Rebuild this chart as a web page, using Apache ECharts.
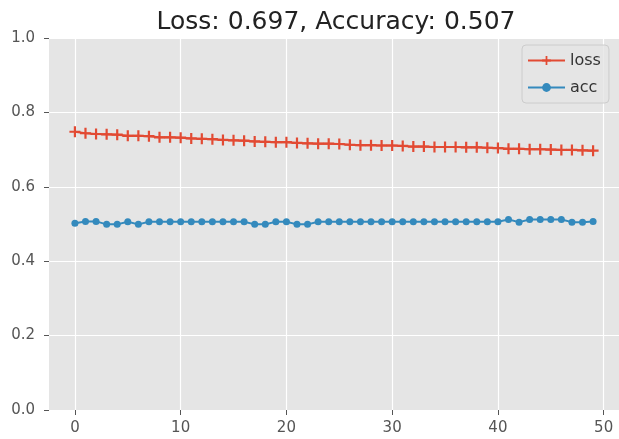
<!DOCTYPE html>
<html>
<head>
<meta charset="utf-8">
<style>
  html, body { margin: 0; padding: 0; background: #ffffff; overflow: hidden; }
  #chart { width: 619px; height: 439px; }
</style>
<script src="https://cdn.jsdelivr.net/npm/echarts@6/dist/echarts.min.js"></script>
</head>
<body>
<div id="chart"></div>
<script>
// Training history: one value per epoch
const epochs = Array.from({ length: 50 }, (_, i) => i);

const lossValues = [
  0.748, 0.744, 0.742, 0.741, 0.740, 0.737, 0.737, 0.736, 0.733, 0.733,
  0.732, 0.730, 0.729, 0.728, 0.726, 0.725, 0.724, 0.722, 0.721, 0.720,
  0.720, 0.718, 0.717, 0.716, 0.716, 0.715, 0.713, 0.712, 0.712, 0.711,
  0.711, 0.710, 0.708, 0.708, 0.707, 0.707, 0.707, 0.706, 0.706, 0.705,
  0.704, 0.702, 0.702, 0.701, 0.701, 0.700, 0.699, 0.699, 0.698, 0.697
];

const accValues = [
  0.502, 0.507, 0.507, 0.499, 0.499, 0.506, 0.499, 0.506, 0.506, 0.506,
  0.506, 0.506, 0.506, 0.506, 0.506, 0.506, 0.506, 0.499, 0.499, 0.506,
  0.506, 0.499, 0.499, 0.506, 0.506, 0.506, 0.506, 0.506, 0.506, 0.506,
  0.506, 0.506, 0.506, 0.506, 0.506, 0.506, 0.506, 0.506, 0.506, 0.506,
  0.506, 0.512, 0.505, 0.512, 0.512, 0.512, 0.512, 0.505, 0.505, 0.507
];

const xTicks = [0, 10, 20, 30, 40, 50];
const yTicks = [0.0, 0.2, 0.4, 0.6, 0.8, 1.0];

const titleText = 'Loss: 0.697, Accuracy: 0.507';

const FONT = 'DejaVu Sans';
const RED = '#E24A33';
const BLUE = '#348ABD';
const TICK_GREY = '#555555';

// "+" marker as a filled cross
const plusPath = 'path://M4,0H6V4H10V6H6V10H4V6H0V4H4Z';

const pairs = (ys) => epochs.map((e, i) => [e, ys[i]]);

const chart = echarts.init(document.getElementById('chart'), null, { renderer: 'canvas' });

chart.setOption({
  animation: false,
  backgroundColor: '#ffffff',
  grid: {
    left: 49, top: 38, width: 576, bottom: 29,
    show: true, backgroundColor: '#E5E5E5', borderWidth: 0,
    containLabel: false
  },
  graphic: [{
    type: 'text',
    x: 336, y: 22,
    style: {
      text: titleText,
      font: '25px "' + FONT + '"',
      fill: '#222222',
      align: 'center',
      verticalAlign: 'middle'
    },
    z: 10
  }],
  legend: {
    orient: 'vertical',
    left: 522, top: 45,
    padding: [7, 8, 7, 5],
    itemGap: 10,
    itemWidth: 37,
    itemHeight: 11,
    itemTextGap: 13,
    backgroundColor: 'rgba(229,229,229,0.8)',
    borderColor: '#cccccc',
    borderWidth: 1,
    borderRadius: 4,
    textStyle: { fontFamily: FONT, fontSize: 16, color: '#333333', lineHeight: 17 },
    data: ['loss', 'acc']
  },
  xAxis: {
    type: 'value',
    min: -2.45, max: 51.45,
    axisLine: { show: false, onZero: false },
    axisTick: { show: true, length: 5, customValues: xTicks, lineStyle: { color: TICK_GREY, width: 1 } },
    axisLabel: {
      customValues: xTicks,
      margin: 11,
      fontFamily: FONT, fontSize: 15, color: TICK_GREY
    },
    splitLine: { show: true, lineStyle: { color: '#ffffff', width: 1.2 } }
  },
  yAxis: {
    type: 'value',
    min: 0, max: 1, interval: 0.2,
    axisLine: { show: false, onZero: false },
    axisTick: { show: true, length: 5, lineStyle: { color: TICK_GREY, width: 1 } },
    axisLabel: {
      margin: 14,
      fontFamily: FONT, fontSize: 15, color: TICK_GREY,
      formatter: (v) => v.toFixed(1)
    },
    splitLine: { show: true, lineStyle: { color: '#ffffff', width: 1.2 } }
  },
  series: [
    {
      name: 'loss',
      type: 'line',
      data: pairs(lossValues),
      showAllSymbol: true,
      symbol: plusPath,
      symbolSize: 11,
      lineStyle: { color: RED, width: 2 },
      itemStyle: { color: RED },
      z: 3
    },
    {
      name: 'acc',
      type: 'line',
      data: pairs(accValues),
      showAllSymbol: true,
      symbol: 'circle',
      symbolSize: 7,
      lineStyle: { color: BLUE, width: 2 },
      itemStyle: { color: BLUE },
      z: 3
    }
  ]
});
</script>
</body>
</html>
